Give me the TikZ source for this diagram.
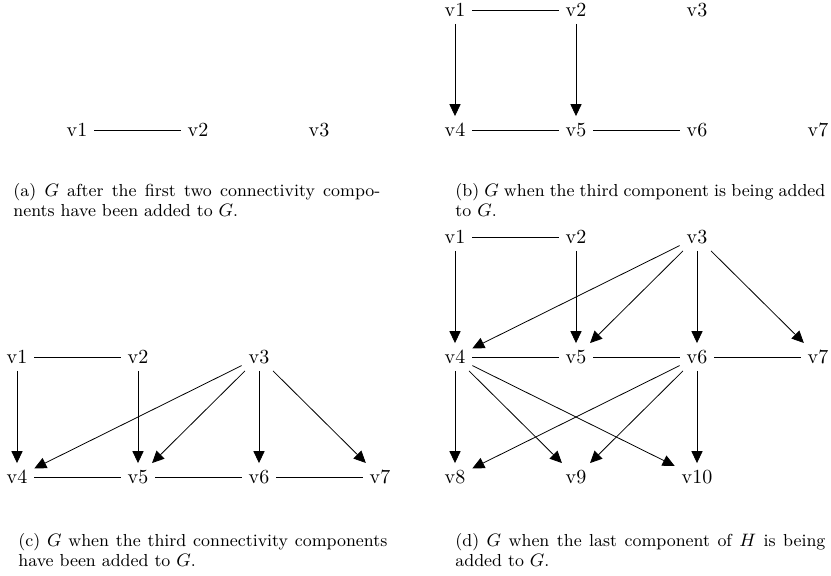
\documentclass[tikz,border=0pt]{standalone}
\usetikzlibrary{arrows.meta}
\begin{document}
\begin{tikzpicture}[x=0.5pt,y=-0.5pt,
  vx/.style={inner sep=0.333em, font=\fontsize{10}{12}\selectfont},
  arr/.style={-{Triangle[length=6pt,width=5.6pt]}},
  capline/.style={anchor=base west, inner sep=0pt, font=\fontsize{8.7}{10}\selectfont}]
\useasboundingbox (0,0) rectangle (831,576);
% ---------------- panel (a)
\node[vx] (a1) at (77,130) {v1};
\node[vx] (a2) at (198,130) {v2};
\node[vx] (a3) at (319,130) {v3};
\draw (a1) -- (a2);
\node[capline] (acap1) at (13,197) {\makebox[183.5pt][s]{(a) $G$ after the first two connectivity compo-}};
\node[capline] (acap2) at (13,217) {nents have been added to $G$.};
% ---------------- panel (b)
\node[vx] (b1) at (455,10) {v1};
\node[vx] (b2) at (576,10) {v2};
\node[vx] (b3) at (697,10) {v3};
\node[vx] (b4) at (455,130) {v4};
\node[vx] (b5) at (576,130) {v5};
\node[vx] (b6) at (697,130) {v6};
\node[vx] (b7) at (818,130) {v7};
\draw (b1) -- (b2);
\draw (b4) -- (b5);
\draw (b5) -- (b6);
\draw[arr] (b1) -- (b4);
\draw[arr] (b2) -- (b5);
\node[capline] (bcap1) at (455,197) {\makebox[185pt][s]{(b) $G$ when the third component is being added}};
\node[capline] (bcap2) at (455,217) {to $G$.};
% ---------------- panel (c)
\node[vx] (c1) at (17,357) {v1};
\node[vx] (c2) at (138,357) {v2};
\node[vx] (c3) at (259,357) {v3};
\node[vx] (c4) at (17,477) {v4};
\node[vx] (c5) at (138,477) {v5};
\node[vx] (c6) at (259,477) {v6};
\node[vx] (c7) at (380,477) {v7};
\draw (c1) -- (c2);
\draw (c4) -- (c5);
\draw (c5) -- (c6);
\draw (c6) -- (c7);
\draw[arr] (c1) -- (c4);
\draw[arr] (c2) -- (c5);
\draw[arr] (c3) -- (c4);
\draw[arr] (c3) -- (c5);
\draw[arr] (c3) -- (c6);
\draw[arr] (c3) -- (c7);
\node[capline] (ccap1) at (18,547) {\makebox[184.5pt][s]{(c) $G$ when the third connectivity components}};
\node[capline] (ccap2) at (18,567) {have been added to $G$.};
% ---------------- panel (d)
\node[vx] (d1) at (455,237) {v1};
\node[vx] (d2) at (576,237) {v2};
\node[vx] (d3) at (697,237) {v3};
\node[vx] (d4) at (455,357) {v4};
\node[vx] (d5) at (576,357) {v5};
\node[vx] (d6) at (697,357) {v6};
\node[vx] (d7) at (818,357) {v7};
\node[vx] (d8) at (455,477) {v8};
\node[vx] (d9) at (576,477) {v9};
\node[vx] (d10) at (697,477) {v10};
\draw (d1) -- (d2);
\draw (d4) -- (d5);
\draw (d5) -- (d6);
\draw (d6) -- (d7);
\draw[arr] (d1) -- (d4);
\draw[arr] (d2) -- (d5);
\draw[arr] (d3) -- (d4);
\draw[arr] (d3) -- (d5);
\draw[arr] (d3) -- (d6);
\draw[arr] (d3) -- (d7);
\draw[arr] (d4) -- (d8);
\draw[arr] (d4) -- (d9);
\draw[arr] (d4) -- (d10);
\draw[arr] (d6) -- (d8);
\draw[arr] (d6) -- (d9);
\draw[arr] (d6) -- (d10);
\node[capline] (dcap1) at (455,547) {\makebox[185pt][s]{(d) $G$ when the last component of $H$ is being}};
\node[capline] (dcap2) at (455,567) {added to $G$.};
\end{tikzpicture}
\end{document}
